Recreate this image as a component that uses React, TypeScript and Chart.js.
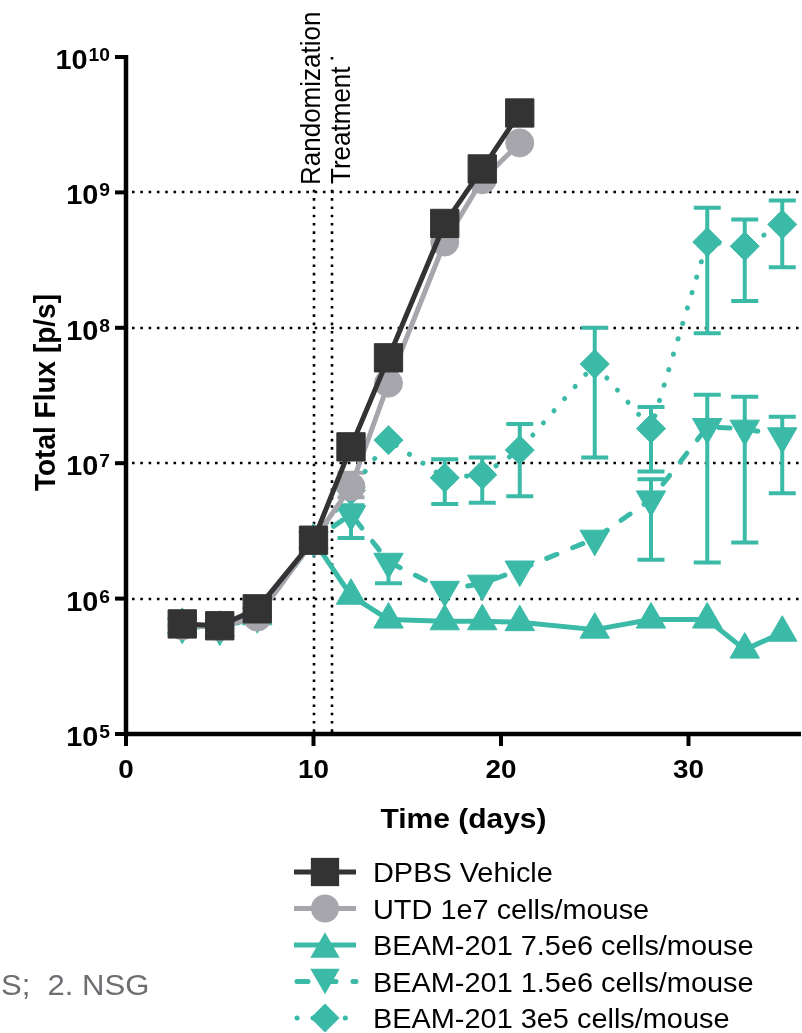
import React, { useEffect, useRef } from "react";
import { Chart, registerables } from "chart.js";

Chart.register(...registerables);

// ---------------- data ----------------
const DAYS_CONTROL = [3, 5, 7, 10, 12, 14, 17, 19, 21];
const DAYS_BEAM = [3, 5, 7, 10, 12, 14, 17, 19, 21, 25, 28, 31, 33, 35];

const DPBS_VEHICLE = [6.5e5, 6.3e5, 8.4e5, 2.7e6, 1.32e7, 6.0e7, 5.9e8, 1.49e9, 3.86e9];
const UTD_1E7 = [6.3e5, 6.2e5, 7.3e5, 2.7e6, 6.7e6, 3.9e7, 4.3e8, 1.24e9, 2.32e9];
const UTD_1E7_LOW = [null, null, null, null, 5.6e6, null, null, null, null];
const UTD_1E7_HIGH = [null, null, null, null, 8.5e6, null, null, null, null];

const BEAM_7_5E6 = [6.4e5, 6.1e5, 7.4e5, 2.7e6, 1.05e6, 7.0e5, 6.8e5, 6.8e5, 6.7e5, 5.9e5, 7.0e5, 7.0e5, 4.2e5, 5.6e5];

const BEAM_1_5E6 = [6.2e5, 6.0e5, 7.4e5, 2.7e6, 4.2e6, 1.87e6, 1.16e6, 1.29e6, 1.64e6, 2.77e6, 5.4e6, 1.85e7, 1.8e7, 1.58e7];
const BEAM_1_5E6_LOW = [null, null, null, null, 2.8e6, 1.3e6, null, null, null, null, 1.94e6, 1.85e6, 2.6e6, 6.0e6];
const BEAM_1_5E6_HIGH = [null, null, null, null, 4.9e6, null, null, null, null, null, 7.6e6, 3.2e7, 3.1e7, 2.2e7];

const BEAM_3E5 = [6.3e5, 6.0e5, 7.4e5, 2.7e6, 6.3e6, 1.48e7, 7.8e6, 8.2e6, 1.25e7, 5.4e7, 1.8e7, 4.3e8, 4.0e8, 5.8e8];
const BEAM_3E5_LOW = [null, null, null, null, null, null, 5.0e6, 5.1e6, 5.7e6, 1.1e7, 8.7e6, 9.1e7, 1.58e8, 2.8e8];
const BEAM_3E5_HIGH = [null, null, null, null, null, null, 1.07e7, 1.1e7, 1.95e7, 1.0e8, 2.6e7, 7.7e8, 6.3e8, 8.7e8];

const SERIES_LABELS = [
  "DPBS Vehicle",
  "UTD 1e7 cells/mouse",
  "BEAM-201 7.5e6 cells/mouse",
  "BEAM-201 1.5e6 cells/mouse",
  "BEAM-201 3e5 cells/mouse",
];

const Y_TICKS = [1e5, 1e6, 1e7, 1e8, 1e9, 1e10];
const Y_TICK_EXPONENTS = ["5", "6", "7", "8", "9", "10"];
const Y_GRID = [1e6, 1e7, 1e8, 1e9];
const X_TICKS = [0, 10, 20, 30];
const EVENT_DAYS = [10, 11];
const EVENT_LABELS = ["Randomization", "Treatment"];
const X_TITLE = "Time (days)";
const Y_TITLE = "Total Flux [p/s]";
const CAPTION = "S;  2. NSG";

// ---------------- styles ----------------
const DARK = "#333333";
const GRAY = "#a7a6ad";
const TEAL = "#3bbaa8";
const FONT = '"Liberation Sans", Arial, Helvetica, sans-serif';
const SX = 1.07;

type Series = {
  days: number[];
  values: number[];
  low: (number | null)[] | null;
  high: (number | null)[] | null;
  color: string;
  style: string;
  radius: number;
  rotation: number;
  dash: number[];
};

const SERIES: Series[] = [
  { days: DAYS_CONTROL, values: DPBS_VEHICLE, low: null, high: null, color: DARK, style: "rect", radius: 20, rotation: 0, dash: [] },
  { days: DAYS_CONTROL, values: UTD_1E7, low: UTD_1E7_LOW, high: UTD_1E7_HIGH, color: GRAY, style: "circle", radius: 14, rotation: 0, dash: [] },
  { days: DAYS_BEAM, values: BEAM_7_5E6, low: null, high: null, color: TEAL, style: "triangle", radius: 17, rotation: 0, dash: [] },
  { days: DAYS_BEAM, values: BEAM_1_5E6, low: BEAM_1_5E6_LOW, high: BEAM_1_5E6_HIGH, color: TEAL, style: "triangle", radius: 17, rotation: 180, dash: [11, 17] },
  { days: DAYS_BEAM, values: BEAM_3E5, low: BEAM_3E5_LOW, high: BEAM_3E5_HIGH, color: TEAL, style: "rectRot", radius: 14.5, rotation: 0, dash: [0.1, 16] },
];

function drawText(
  ctx: CanvasRenderingContext2D,
  str: string,
  x: number,
  y: number,
  font: string,
  align: CanvasTextAlign,
  baseline: CanvasTextBaseline,
  color: string,
  rot = 0
) {
  ctx.save();
  ctx.translate(x, y);
  ctx.scale(SX, 1);
  if (rot) ctx.rotate(rot);
  ctx.font = font;
  ctx.textAlign = align;
  ctx.textBaseline = baseline;
  ctx.fillStyle = color;
  ctx.fillText(str, 0, 0);
  ctx.restore();
}

function drawMarker(ctx: CanvasRenderingContext2D, style: string, x: number, y: number, r: number, rot: number, color: string) {
  ctx.save();
  ctx.fillStyle = color;
  ctx.beginPath();
  if (style === "rect") {
    const s = r * Math.SQRT1_2;
    ctx.rect(x - s, y - s, 2 * s, 2 * s);
  } else if (style === "circle") {
    ctx.arc(x, y, r, 0, Math.PI * 2);
  } else if (style === "rectRot") {
    ctx.moveTo(x - r, y);
    ctx.lineTo(x, y - r);
    ctx.lineTo(x + r, y);
    ctx.lineTo(x, y + r);
    ctx.closePath();
  } else {
    const d = rot === 180 ? -1 : 1;
    ctx.moveTo(x, y - d * r);
    ctx.lineTo(x + 0.866 * r, y + d * 0.5 * r);
    ctx.lineTo(x - 0.866 * r, y + d * 0.5 * r);
    ctx.closePath();
  }
  ctx.fill();
  ctx.restore();
}

const decorPlugin = {
  id: "decor",
  beforeDatasetsDraw(chart: any) {
    const { ctx, chartArea: a, scales } = chart;
    const xs = scales.x;
    const ys = scales.y;
    ctx.save();
    // dotted grid
    ctx.strokeStyle = "#000";
    ctx.lineWidth = 2.6;
    ctx.setLineDash([2.6, 5.7]);
    Y_GRID.forEach((v) => {
      const py = Math.round(ys.getPixelForValue(v));
      ctx.beginPath();
      ctx.moveTo(a.left + 6, py);
      ctx.lineTo(chart.width, py);
      ctx.stroke();
    });
    EVENT_DAYS.forEach((d) => {
      const px = Math.round(xs.getPixelForValue(d));
      ctx.beginPath();
      ctx.moveTo(px, a.top);
      ctx.lineTo(px, a.bottom);
      ctx.stroke();
    });
    ctx.setLineDash([]);
    // error bars
    ctx.lineWidth = 4;
    ctx.lineCap = "butt";
    SERIES.forEach((s) => {
      ctx.strokeStyle = s.color;
      s.days.forEach((d, i) => {
        const px = xs.getPixelForValue(d);
        const pc = ys.getPixelForValue(s.values[i]);
        [s.low ? s.low[i] : null, s.high ? s.high[i] : null].forEach((e) => {
          if (e == null) return;
          const pe = ys.getPixelForValue(e);
          ctx.beginPath();
          ctx.moveTo(px, pc);
          ctx.lineTo(px, pe);
          ctx.moveTo(px - 13.5, pe);
          ctx.lineTo(px + 13.5, pe);
          ctx.stroke();
        });
      });
    });
    ctx.restore();
  },
  afterDraw(chart: any) {
    const { ctx, chartArea: a, scales } = chart;
    const xs = scales.x;
    const ys = scales.y;
    ctx.save();
    // axes
    ctx.strokeStyle = "#000";
    ctx.lineWidth = 4.5;
    ctx.beginPath();
    ctx.moveTo(a.left, a.top - 2);
    ctx.lineTo(a.left, a.bottom + 2);
    ctx.moveTo(a.left - 2, a.bottom);
    ctx.lineTo(a.right, a.bottom);
    ctx.stroke();
    ctx.lineWidth = 4;
    Y_TICKS.forEach((v) => {
      const py = ys.getPixelForValue(v);
      ctx.beginPath();
      ctx.moveTo(a.left - 11, py);
      ctx.lineTo(a.left, py);
      ctx.stroke();
    });
    X_TICKS.forEach((v) => {
      const px = xs.getPixelForValue(v);
      ctx.beginPath();
      ctx.moveTo(px, a.bottom);
      ctx.lineTo(px, a.bottom + 12);
      ctx.stroke();
    });
    // y tick labels 10^n
    const right = a.left - 16;
    Y_TICKS.forEach((v, i) => {
      const py = ys.getPixelForValue(v);
      const expFont = `bold 18px ${FONT}`;
      ctx.font = expFont;
      const ew = ctx.measureText(Y_TICK_EXPONENTS[i]).width * SX;
      drawText(ctx, Y_TICK_EXPONENTS[i], right, py + 4, expFont, "right", "alphabetic", "#000");
      drawText(ctx, "10", right - ew - 1, py + 12, `bold 27px ${FONT}`, "right", "alphabetic", "#000");
    });
    // x tick labels
    X_TICKS.forEach((v) => {
      const px = xs.getPixelForValue(v);
      drawText(ctx, String(v), px, a.bottom + 44, `bold 26px ${FONT}`, "center", "alphabetic", "#000");
    });
    // axis titles
    drawText(ctx, X_TITLE, (a.left + a.right) / 2, 828, `bold 28px ${FONT}`, "center", "alphabetic", "#000");
    drawText(ctx, Y_TITLE, 55, (a.top + a.bottom) / 2 - 3, `bold 28px ${FONT}`, "center", "alphabetic", "#000", -Math.PI / 2);
    // event labels with white backing
    const evBase = [320, 350];
    const evBottom = [185, 184];
    EVENT_LABELS.forEach((t, i) => {
      const font = `26px ${FONT}`;
      ctx.font = font;
      const w = ctx.measureText(t).width;
      ctx.fillStyle = "#fff";
      ctx.fillRect(evBase[i] - 23, evBottom[i] - w - 2, 25, w + 4);
      drawText(ctx, t, evBase[i], evBottom[i], font, "left", "alphabetic", "#000", -Math.PI / 2);
    });
    // legend
    const lx0 = 294, lx1 = 356, lmx = 325, ltx = 373;
    SERIES.forEach((s, i) => {
      const base = 882 + i * 36.5;
      const cy = base - 10;
      ctx.save();
      ctx.strokeStyle = s.color;
      ctx.lineWidth = 5;
      ctx.lineCap = s.dash.length ? "round" : "butt";
      ctx.setLineDash(s.dash);
      ctx.beginPath();
      ctx.moveTo(lx0 + (s.dash.length ? 3 : 0), cy);
      ctx.lineTo(lx1, cy);
      ctx.stroke();
      ctx.restore();
      let my = cy;
      if (s.style === "triangle") my = s.rotation === 180 ? cy - s.radius / 4 : cy + s.radius / 4;
      drawMarker(ctx, s.style, lmx, my, s.radius, s.rotation, s.color);
      drawText(ctx, SERIES_LABELS[i], ltx, base, `27px ${FONT}`, "left", "alphabetic", "#000");
    });
    // cropped caption
    drawText(ctx, CAPTION, 1, 995, `29px ${FONT}`, "left", "alphabetic", "#6e6e73");
    ctx.restore();
  },
};

export default function App() {
  const ref = useRef<HTMLCanvasElement | null>(null);
  useEffect(() => {
    if (!ref.current) return;
    const datasets = SERIES.map((s, i) => ({
      label: SERIES_LABELS[i],
      data: s.days.map((d, j) => ({ x: d, y: s.values[j] })),
      borderColor: s.color,
      backgroundColor: s.color,
      borderWidth: 5,
      borderDash: s.dash,
      borderCapStyle: s.dash.length ? "round" : "butt",
      borderJoinStyle: "round",
      pointStyle: s.style,
      pointRadius: s.radius,
      pointRotation: s.rotation,
      pointBackgroundColor: s.color,
      pointBorderColor: s.color,
      pointBorderWidth: 1,
      tension: 0,
      fill: false,
    }));
    const chart = new Chart(ref.current, {
      type: "line",
      data: { datasets } as any,
      options: {
        animation: false,
        responsive: false,
        events: [],
        layout: { autoPadding: false, padding: { left: 126, top: 57, right: 1, bottom: 299 } },
        plugins: { legend: { display: false }, tooltip: { enabled: false } },
        scales: {
          x: {
            type: "linear",
            min: 0,
            max: 36,
            ticks: { display: false },
            grid: { display: false, drawTicks: false },
            border: { display: false },
          },
          y: {
            type: "logarithmic",
            min: 1e5,
            max: 1e10,
            ticks: { display: false },
            grid: { display: false, drawTicks: false },
            border: { display: false },
          },
        },
      } as any,
      plugins: [decorPlugin],
    });
    return () => chart.destroy();
  }, []);
  return (
    <div style={{ position: "absolute", left: 0, top: 0, width: 802, height: 1033, background: "#fff" }}>
      <canvas ref={ref} width={802} height={1033} style={{ display: "block" }} />
    </div>
  );
}
